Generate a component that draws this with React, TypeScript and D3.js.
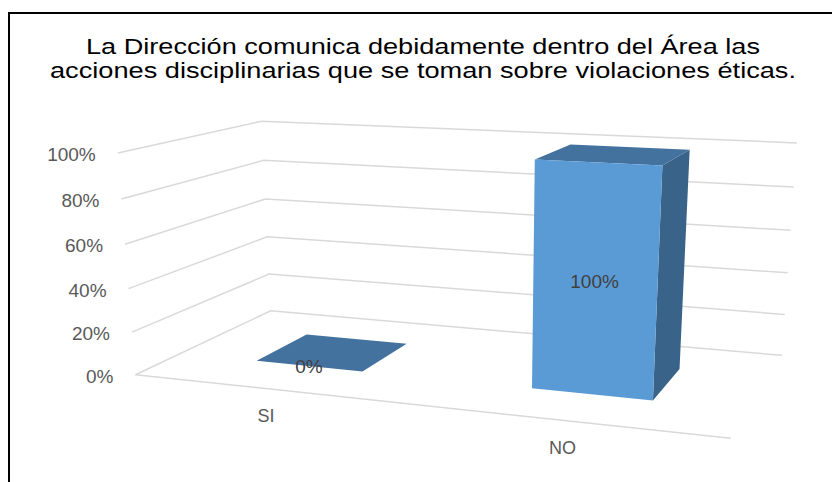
import React from 'react';
import * as d3 from 'd3';

// ---------- data ----------
const categories = ['SI', 'NO'];
const values = [0, 1]; // 0%, 100%
const tickValues = [0, 0.2, 0.4, 0.6, 0.8, 1];
const titleLines = [
  'La Dirección comunica debidamente dentro del Área las',
  'acciones disciplinarias que se toman sobre violaciones éticas.',
];

// ---------- layout: perspective calibration of the unit plot cube ----------
// [X (category axis 0..1), Y (value 0..1), Z (depth 0 front..1 back), screenX, screenY]
const CALIB: [number, number, number, number, number][] = [
  [0, 1, 0, 118, 153], [0, 0.8, 0, 122, 199], [0, 0.6, 0, 125, 245],
  [0, 0.4, 0, 128, 289], [0, 0.2, 0, 132, 332], [0, 0, 0, 135, 374],
  [0, 1, 1, 260, 121], [0, 0.8, 1, 264, 160], [0, 0.6, 1, 267, 199],
  [0, 0.4, 1, 267, 237], [0, 0.2, 1, 270, 274], [0, 0, 1, 270, 311],
  [1, 1, 1, 797, 143], [1, 0.8, 1, 793, 187], [1, 0.6, 1, 791, 230],
  [1, 0.4, 1, 788, 273], [1, 0.2, 1, 784, 314], [1, 0, 1, 782, 356],
  [1, 0, 0, 731, 438],
];

function solveDLT(pts: [number, number, number, number, number][]) {
  const n = 11;
  const M: number[][] = Array.from({ length: n }, () => new Array(n).fill(0));
  const r: number[] = new Array(n).fill(0);
  const add = (row: number[], b: number) => {
    for (let i = 0; i < n; i++) {
      r[i] += row[i] * b;
      for (let j = 0; j < n; j++) M[i][j] += row[i] * row[j];
    }
  };
  for (const [X, Y, Z, u, v] of pts) {
    add([X, Y, Z, 1, 0, 0, 0, 0, -u * X, -u * Y, -u * Z], u);
    add([0, 0, 0, 0, X, Y, Z, 1, -v * X, -v * Y, -v * Z], v);
  }
  for (let c = 0; c < n; c++) {
    let piv = c;
    for (let k = c + 1; k < n; k++) if (Math.abs(M[k][c]) > Math.abs(M[piv][c])) piv = k;
    [M[c], M[piv]] = [M[piv], M[c]];
    [r[c], r[piv]] = [r[piv], r[c]];
    for (let k = c + 1; k < n; k++) {
      const f = M[k][c] / M[c][c];
      for (let j = c; j < n; j++) M[k][j] -= f * M[c][j];
      r[k] -= f * r[c];
    }
  }
  const p = new Array(n).fill(0);
  for (let i = n - 1; i >= 0; i--) {
    let s = r[i];
    for (let j = i + 1; j < n; j++) s -= M[i][j] * p[j];
    p[i] = s / M[i][i];
  }
  return p;
}

const P = solveDLT(CALIB);
const project = (X: number, Y: number, Z: number): [number, number] => {
  const w = P[8] * X + P[9] * Y + P[10] * Z + 1;
  return [
    (P[0] * X + P[1] * Y + P[2] * Z + P[3]) / w,
    (P[4] * X + P[5] * Y + P[6] * Z + P[7]) / w,
  ];
};

const FONT = "'Liberation Sans', Arial, sans-serif";
const COLORS = { front: '#5b9bd5', top: '#43729f', side: '#396388', grid: '#d9d9d9' };

export default function App() {
  const x = d3.scaleBand<string>().domain(categories).range([0, 1]).paddingInner(0.6).paddingOuter(0.3);
  const y = d3.scaleLinear().domain([0, 1]).range([0, 1]);
  const z = d3.scaleBand<string>().domain(['serie']).range([0, 1]).paddingInner(0).paddingOuter(0.75);
  const z0 = z('serie')!;
  const z1 = z0 + z.bandwidth();
  const line = d3.line();

  const poly = (pts: [number, number, number][]) =>
    (line(pts.map(([a, b, c]) => project(a, b, c))) || '') + 'Z';

  return (
    <svg width={832} height={482} style={{ position: 'absolute', left: 0, top: 0, background: '#fff' }}>
      <rect x={0} y={0} width={832} height={482} fill="#fff" />
      {/* border */}
      <path d="M9,482V13H832" fill="none" stroke="#000" strokeWidth={2} />
      {/* title */}
      {titleLines.map((t, i) => (
        <text key={i} x={423} y={54 + i * 24} textAnchor="middle" fontFamily={FONT} fontSize={22}
          fill="#000" textLength={i === 0 ? 674 : 746} lengthAdjust="spacingAndGlyphs">{t}</text>
      ))}
      {/* gridlines */}
      {tickValues.map((t) => (
        <path key={t} d={line([project(0, y(t), 0), project(0, y(t), 1), project(1, y(t), 1)]) || ''}
          fill="none" stroke={COLORS.grid} strokeWidth={1.5} />
      ))}
      <path d={line([project(0, 0, 0), project(1, 0, 0)]) || ''} fill="none" stroke={COLORS.grid} strokeWidth={1.5} />
      {/* axis labels */}
      {tickValues.map((t) => {
        const [px, py] = project(0, y(t), 0);
        const lab = d3.format('.0%')(t);
        return (
          <text key={t} x={px - 22} y={py + 8} textAnchor="end" fontFamily={FONT} fontSize={19} fill="#595959">{lab}</text>
        );
      })}
      {/* bars */}
      {categories.map((c, i) => {
        const x0 = x(c)!;
        const x1 = x0 + x.bandwidth();
        const v = y(values[i]);
        return (
          <g key={c}>
            {v > 0 && <path d={poly([[x1, 0, z0], [x1, 0, z1], [x1, v, z1], [x1, v, z0]])} fill={COLORS.side} />}
            <path d={poly([[x0, v, z0], [x1, v, z0], [x1, v, z1], [x0, v, z1]])} fill={COLORS.top} />
            {v > 0 && <path d={poly([[x0, 0, z0], [x1, 0, z0], [x1, v, z0], [x0, v, z0]])} fill={COLORS.front} />}
          </g>
        );
      })}
      {/* data labels */}
      {categories.map((c, i) => {
        const xc = x(c)! + x.bandwidth() / 2;
        const [px, py] = project(xc, y(values[i]) / 2, z0);
        return (
          <text key={c} x={px} y={py + 7} textAnchor="middle" fontFamily={FONT} fontSize={19} fill="#404040">
            {d3.format('.0%')(values[i])}
          </text>
        );
      })}
      {/* category labels */}
      {categories.map((c) => {
        const xc = x(c)! + x.bandwidth() / 2;
        const [px, py] = project(xc, 0, 0);
        return (
          <text key={c} x={px - 3} y={py + 33} textAnchor="middle" fontFamily={FONT} fontSize={18} fill="#595959">{c}</text>
        );
      })}
    </svg>
  );
}
